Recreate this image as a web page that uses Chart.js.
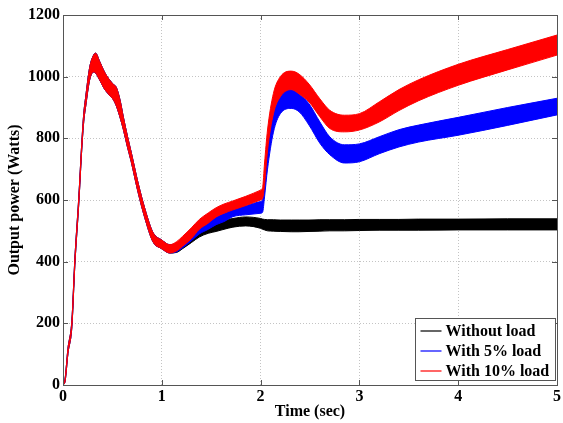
<!DOCTYPE html>
<html>
<head>
<meta charset="utf-8">
<script src="https://cdn.jsdelivr.net/npm/chart.js@4/dist/chart.umd.min.js"></script>
<style>
  html, body { margin: 0; padding: 0; background: #fff; }
  #wrap { width: 563px; height: 423px; }
</style>
</head>
<body>
<div id="wrap"><canvas id="chart" width="563" height="423"></canvas></div>
<script>
// time axis (sec), shared by all series
const time = [0, 0.02, 0.05, 0.09, 0.12, 0.16, 0.19, 0.21, 0.23, 0.27, 0.31, 0.33, 0.37, 0.42, 0.47,
    0.51, 0.54, 0.58, 0.61, 0.65, 0.69, 0.76, 0.83, 0.91, 1.0, 1.08,
    1.15, 1.21, 1.3, 1.38, 1.47, 1.55, 1.63, 1.72, 1.85, 2.0, 2.02, 2.04, 2.07, 2.13, 2.2,
    2.31, 2.39, 2.49, 2.6, 2.7, 2.85, 3.0, 3.2, 3.4, 3.6, 4.0, 4.5, 5.0];

// start-up part (0 .. 1.08 s) is the same for all three cases
const startUpper = [3, 18, 118, 210, 410, 610, 785, 880, 935, 1030, 1070, 1076, 1050, 1015, 990,
    975, 965, 920, 870, 810, 755, 655, 570, 495, 470, 455];
const startLower = [0, 10, 102, 190, 390, 590, 765, 855, 905, 990, 1015, 1012, 990, 960, 940,
    925, 905, 865, 830, 775, 725, 625, 540, 465, 442, 428];

// ripple band (upper / lower envelope) from 1.15 s on
const blackUpper = startUpper.concat([458, 470, 490, 505, 520, 528, 535, 540, 545, 540, 538, 537, 536, 536, 535,
    535, 535, 535, 536, 536, 536, 537, 537, 537, 538, 538, 539, 539]);
const blackLower = startLower.concat([430, 442, 462, 480, 492, 498, 505, 512, 516, 508, 505, 503, 500, 499, 498,
    497, 497, 498, 499, 500, 500, 501, 502, 502, 502, 503, 503, 503]);

const blueUpper = startUpper.concat([460, 475, 498, 515, 530, 545, 557, 572, 582, 595, 600, 676, 773, 881, 940,
    958, 944, 912, 853, 805, 779, 782, 805, 828, 843, 868, 900, 930]);
const blueLower = startLower.concat([432, 445, 468, 490, 505, 520, 530, 546, 552, 557, 560, 610, 700, 820, 880,
    897, 886, 843, 784, 747, 720, 724, 750, 772, 788, 810, 842, 876]);

const redUpper = startUpper.concat([465, 482, 510, 537, 558, 575, 587, 597, 612, 632, 640, 720, 827, 946, 1000,
    1018, 1008, 976, 928, 891, 875, 880, 918, 958, 990, 1040, 1088, 1135]);
const redLower = startLower.concat([435, 450, 475, 505, 525, 545, 557, 568, 582, 600, 605, 650, 760, 880, 935,
    958, 944, 918, 870, 832, 821, 827, 853, 890, 922, 972, 1022, 1070]);

const seriesNames = ['Without load', 'With 5% load', 'With 10% load'];
const seriesColors = ['#000000', '#0000ff', '#ff0000'];
const xTicks = [0, 1, 2, 3, 4, 5];
const yTicks = [0, 200, 400, 600, 800, 1000, 1200];

const FONT = '"Liberation Serif", "Times New Roman", serif';

const toPoints = (arr) => time.map((t, i) => ({ x: t, y: arr[i] }));

// each case is a filled band between its two envelopes
const band = (upper, lower, color, order) => [
    {
        data: toPoints(upper),
        borderColor: color,
        borderWidth: 1,
        backgroundColor: color,
        fill: false,
        order: order
    },
    {
        data: toPoints(lower),
        borderColor: color,
        borderWidth: 1,
        backgroundColor: color,
        fill: '-1',
        order: order
    }
];

const datasets = [].concat(
    band(blackUpper, blackLower, seriesColors[0], 3),
    band(blueUpper, blueLower, seriesColors[1], 2),
    band(redUpper, redLower, seriesColors[2], 1)
);

// MATLAB style box, inward ticks and the legend box in the lower right
const boxPlugin = {
    id: 'matlabBox',
    afterDatasetsDraw(chart) {
        const { ctx, chartArea: a, scales } = chart;
        ctx.save();
        ctx.strokeStyle = '#555';
        ctx.lineWidth = 1;
        ctx.strokeRect(Math.round(a.left) + 0.5, Math.round(a.top) + 0.5,
            Math.round(a.right - a.left), Math.round(a.bottom - a.top));

        const len = 5;
        ctx.beginPath();
        xTicks.forEach(v => {
            const x = Math.round(scales.x.getPixelForValue(v)) + 0.5;
            ctx.moveTo(x, a.bottom); ctx.lineTo(x, a.bottom - len);
            ctx.moveTo(x, a.top); ctx.lineTo(x, a.top + len);
        });
        yTicks.forEach(v => {
            const y = Math.round(scales.y.getPixelForValue(v)) + 0.5;
            ctx.moveTo(a.left, y); ctx.lineTo(a.left + len, y);
            ctx.moveTo(a.right, y); ctx.lineTo(a.right - len, y);
        });
        ctx.stroke();

        // legend
        const lx = 415.5, ly = 318.5, lw = 140, lh = 62;
        ctx.fillStyle = '#fff';
        ctx.fillRect(lx, ly, lw, lh);
        ctx.strokeStyle = '#555';
        ctx.strokeRect(lx, ly, lw, lh);
        ctx.font = 'bold 16px ' + FONT;
        ctx.textBaseline = 'middle';
        ctx.textAlign = 'left';
        seriesNames.forEach((name, i) => {
            const y = ly + 12.5 + i * 20;
            ctx.strokeStyle = seriesColors[i];
            ctx.lineWidth = 1.2;
            ctx.beginPath();
            ctx.moveTo(lx + 5, y);
            ctx.lineTo(lx + 26, y);
            ctx.stroke();
            ctx.fillStyle = '#000';
            ctx.fillText(name, lx + 30, y + 1);
        });
        ctx.restore();
    }
};

const plainNumber = (value) => String(value);

new Chart(document.getElementById('chart').getContext('2d'), {
    type: 'line',
    data: { datasets },
    options: {
        responsive: false,
        animation: false,
        events: [],
        layout: { padding: { top: 15, right: 5, left: 0, bottom: 0 } },
        elements: {
            point: { radius: 0 },
            line: { cubicInterpolationMode: 'monotone' }
        },
        plugins: {
            legend: { display: false },
            tooltip: { enabled: false }
        },
        scales: {
            x: {
                type: 'linear',
                min: 0,
                max: 5,
                afterFit: (scale) => { scale.height = 38; },
                afterBuildTicks: (scale) => { scale.ticks = xTicks.map(v => ({ value: v })); },
                ticks: {
                    color: '#000',
                    padding: 2,
                    maxRotation: 0,
                    callback: plainNumber,
                    font: { family: FONT, size: 16, weight: 'bold' }
                },
                grid: { color: '#c4c4c4', drawTicks: false },
                border: { display: false, dash: [1, 2] },
                title: {
                    display: true,
                    text: 'Time (sec)',
                    color: '#000',
                    padding: { top: 0, bottom: 2 },
                    font: { family: FONT, size: 16, weight: 'bold' }
                }
            },
            y: {
                type: 'linear',
                min: 0,
                max: 1200,
                afterFit: (scale) => { scale.width = 63; },
                afterBuildTicks: (scale) => { scale.ticks = yTicks.map(v => ({ value: v })); },
                ticks: {
                    color: '#000',
                    padding: 3,
                    callback: plainNumber,
                    font: { family: FONT, size: 16, weight: 'bold' }
                },
                grid: { color: '#c4c4c4', drawTicks: false },
                border: { display: false, dash: [1, 2] },
                title: {
                    display: true,
                    text: 'Output power (Watts)',
                    color: '#000',
                    padding: { top: 5, bottom: 0 },
                    font: { family: FONT, size: 16, weight: 'bold' }
                }
            }
        }
    },
    plugins: [boxPlugin]
});
</script>
</body>
</html>
